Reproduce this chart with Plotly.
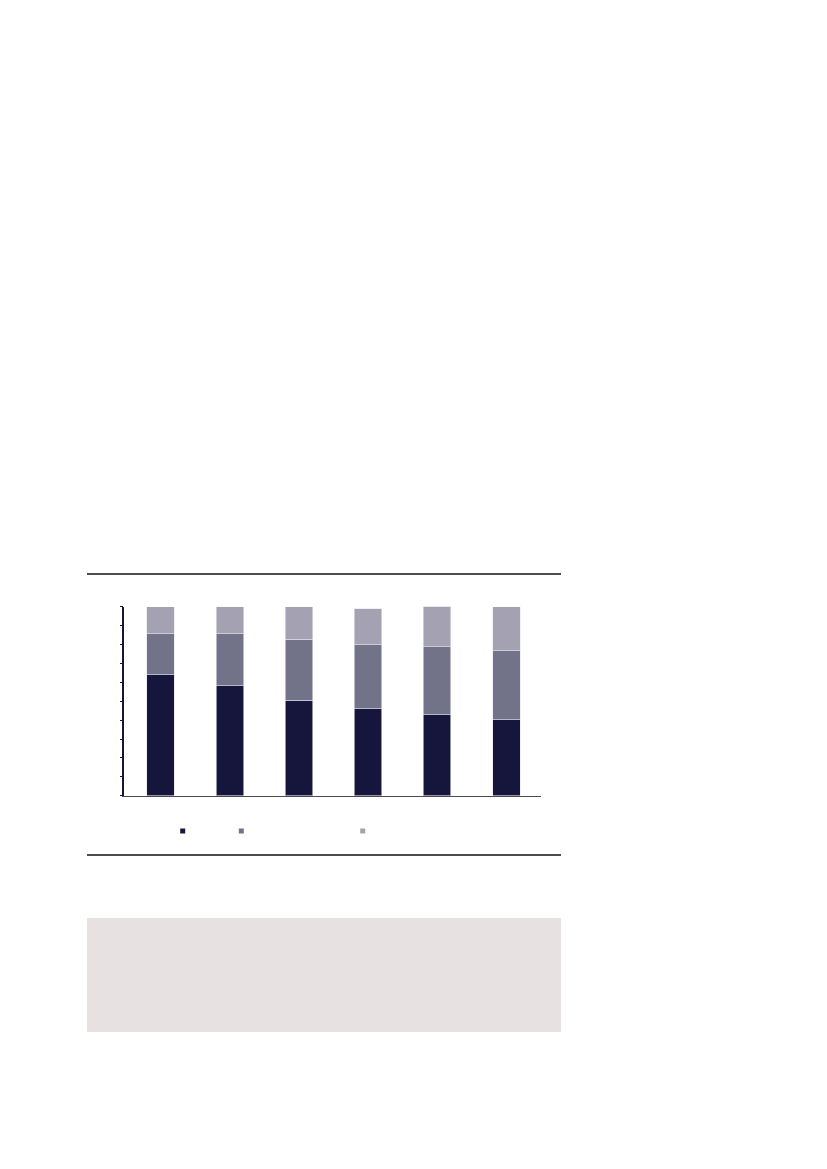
import plotly.graph_objects as go

# six groups, no visible labels in the source
categories = ["1", "2", "3", "4", "5", "6"]
series_names = ["Series 1", "Series 2", "Series 3"]
dark_values = [63.9, 58.2, 50.6, 46.0, 42.9, 40.1]
mid_values = [21.7, 27.4, 32.3, 33.9, 35.9, 36.5]
light_values = [14.4, 14.4, 17.1, 19.0, 21.6, 23.4]
y_ticks = [0, 10, 20, 30, 40, 50, 60, 70, 80, 90, 100]

colors = ["#16163c", "#727289", "#a4a2b2"]

# page body has an 8px margin, so the figure sits 8px in from the window edge
OFF = 8
W, H = 827 - 2 * OFF, 1169 - 2 * OFF


def px(x):
    return (x - OFF) / W


def py(y):
    return 1 - (y - OFF) / H


fig = go.Figure()
for name, vals, col in zip(series_names, [dark_values, mid_values, light_values], colors):
    fig.add_trace(go.Bar(
        x=categories, y=vals, name=name,
        marker=dict(color=col, line=dict(color="#e6e6ec", width=0.6)),
        cliponaxis=False,
    ))

shapes = [
    # rules above and below the chart block
    dict(type="line", xref="paper", yref="paper", x0=px(87), x1=px(561),
         y0=py(574), y1=py(574), line=dict(color="#111111", width=1.5)),
    dict(type="line", xref="paper", yref="paper", x0=px(87), x1=px(561),
         y0=py(855), y1=py(855), line=dict(color="#111111", width=1.5)),
    # grey note box
    dict(type="rect", xref="paper", yref="paper", x0=px(87), x1=px(561),
         y0=py(1032), y1=py(918), fillcolor="#e7e1e1", line=dict(width=0), layer="below"),
]

# legend keys (text missing in the source)
for cx, col in zip([182.7, 241.3, 362.7], colors):
    shapes.append(dict(type="rect", xref="paper", yref="paper",
                       x0=px(cx - 2.5), x1=px(cx + 2.5), y0=py(833.5), y1=py(828.5),
                       fillcolor=col, line=dict(width=0)))

fig.update_layout(
    width=W, height=H,
    margin=dict(l=0, r=0, t=0, b=0),
    paper_bgcolor="white",
    plot_bgcolor="rgba(0,0,0,0)",
    barmode="stack",
    bargap=0.602,
    showlegend=False,
    shapes=shapes,
    xaxis=dict(
        domain=[px(124.3), px(541)],
        range=[-0.527, 5.502],
        showticklabels=False, showgrid=False, zeroline=False,
        showline=True, linecolor="#4a4a5a", linewidth=1.2,
        ticks="",
    ),
    yaxis=dict(
        domain=[py(795.7), py(606.7)],
        range=[0, 100],
        tickvals=y_ticks,
        showticklabels=False, showgrid=False, zeroline=False,
        showline=True, linecolor="#16163c", linewidth=1.5,
        ticks="outside", ticklen=3, tickwidth=1.2, tickcolor="#16163c",
    ),
)

fig.write_html("out.html")
